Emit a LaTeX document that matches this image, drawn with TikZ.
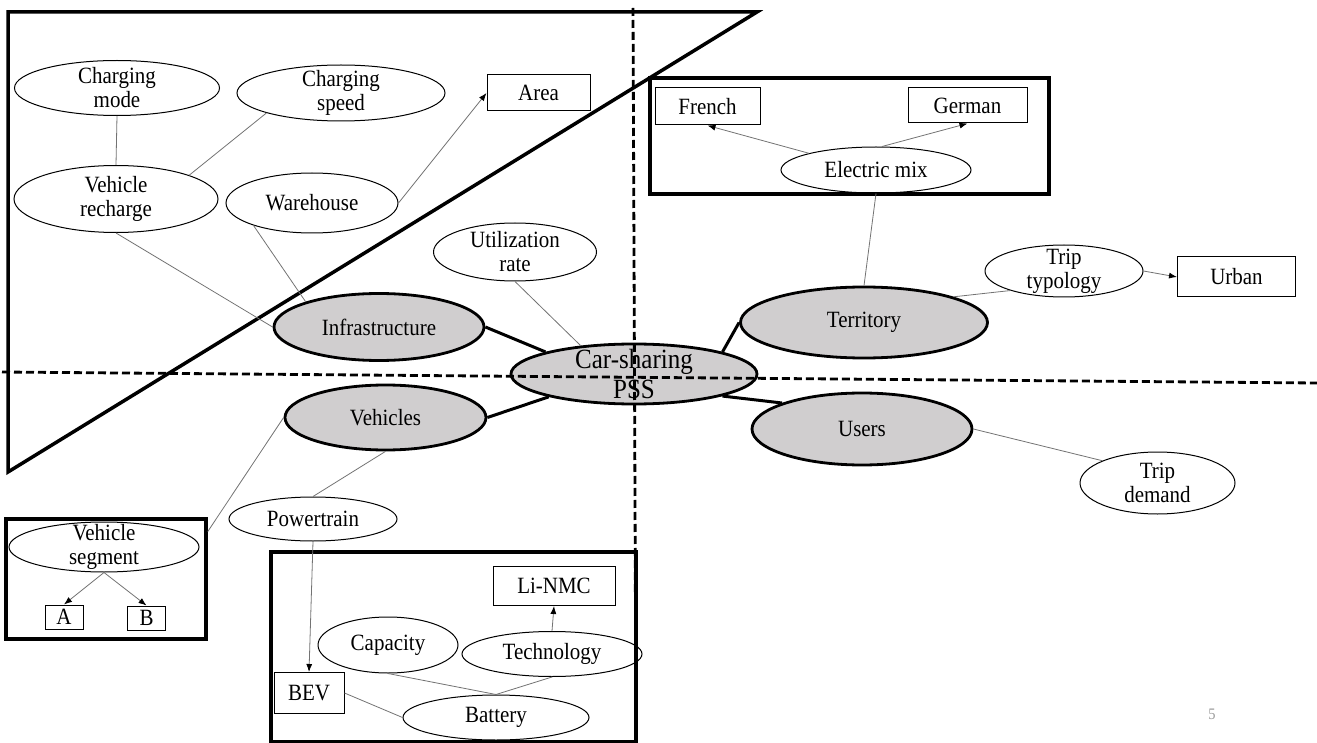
\documentclass[tikz,border=0pt]{standalone}
\usepackage{fontspec}
\setmainfont{Liberation Serif}[FakeStretch=0.9]
\usetikzlibrary{shapes.geometric, arrows.meta}
\definecolor{mgray}{RGB}{208,206,207}
\definecolor{lgray}{RGB}{115,115,115}

\begin{document}
\begin{tikzpicture}[x=1pt, y=-1pt,
  every node/.style = {align=center, inner sep=0pt, font=\fontsize{23.3}{24}\selectfont},
  sz/.style 2 args = {minimum width=#1pt, minimum height=#2pt},
  attr/.style = {shape=ellipse, draw, line width=1pt, inner sep=-10pt},
  core/.style = {shape=ellipse, draw, line width=2.8pt, inner sep=-10pt, fill=mgray},
  val/.style = {shape=rectangle, draw, line width=1pt},
  group/.style = {shape=rectangle, draw, line width=3.5pt},
  rel/.style = {draw=lgray, line width=0.8pt},
  relto/.style = {rel, -{Latex[length=8pt, width=6pt, color=black]}},
  tie/.style = {line width=3pt},
  cut/.style = {line width=2.8pt, dash pattern=on 8pt off 4pt}]
  \useasboundingbox (0,0) rectangle (1317,743);

  % frames
  \draw[line width=3.5pt, line join=miter] (8,12) -- (757,12) -- (8,472) -- cycle;
  \node[group, sz={399}{116}] (mixbox) at (849.5,136) {};
  \node[group, sz={200}{120}] (segbox) at (106,579) {};
  \node[group, sz={365}{190}] (batbox) at (453.5,647) {};

  % infrastructure side
  \node[attr, sz={205}{55}] (mode) at (117,88) {Charging\\mode};
  \node[attr, sz={208}{56}] (speed) at (341,93) {Charging\\speed};
  \node[val, sz={103}{36}] (area) at (538.5,93) {Area};
  \node[attr, sz={204}{67}] (recharge) at (116,199) {Vehicle\\recharge};
  \node[attr, sz={172}{60}] (warehouse) at (312,203) {Warehouse};
  \node[attr, sz={163}{58}] (util) at (515,252) {Utilization\\rate};
  \node[core, sz={210}{67}] (infra) at (379,327) {Infrastructure};

  \node[core, sz={246}{60}, font=\fontsize{27.8}{30}\selectfont] (car) at (634,374)
    {Car-sharing\\PSS};

  % territory and users
  \node[val, sz={105}{37}] (french) at (707.5,106.5) {French};
  \node[val, sz={119}{35}] (german) at (967.5,105.5) {German};
  \node[attr, sz={190}{46}] (elecmix) at (876,170) {Electric mix};
  \node[attr, sz={158}{52}] (typology) at (1064,271) {Trip\\typology};
  \node[val, sz={118}{40}] (urban) at (1236.5,277) {Urban};
  \node[core, sz={247}{71}] (territory) at (864,322.5) {Territory};
  \node[core, sz={220}{72}] (users) at (862,429) {Users};
  \node[attr, sz={155}{62}] (demand) at (1157.5,483) {Trip\\demand};

  % vehicles
  \node[core, sz={201}{65}] (vehicles) at (385.5,417.5) {Vehicles};
  \node[attr, sz={168}{44}] (powertrain) at (313,519) {Powertrain};
  \node[attr, sz={190}{50}] (segment) at (104,547) {Vehicle\\segment};
  \node[val, sz={38}{24}] (segA) at (64,617) {A};
  \node[val, sz={38}{24}] (segB) at (146.5,618) {B};
  \node[val, sz={122}{39}] (linmc) at (554,586) {Li-NMC};
  \node[attr, sz={140}{56}] (capacity) at (388,645) {Capacity};
  \node[attr, sz={180}{45}] (technology) at (552,654) {Technology};
  \node[val, sz={70}{41}] (bev) at (309,693) {BEV};
  \node[attr, sz={186}{45}] (battery) at (496,717.5) {Battery};

  \node[text=black!40, font=\fontsize{16}{18}\selectfont] (pagenum) at (1212,714) {5};

  % links
  \draw[rel] (mode.south) -- (recharge.north);
  \draw[rel] (speed.195) -- (recharge.18);
  \draw[relto] (warehouse.east) -- (area.west);
  \draw[rel] (recharge.south) -- (infra.west);
  \draw[rel] (warehouse.-159) -- (infra.161);
  \draw[rel] (util.south) -- (car.152);
  \draw[relto] (elecmix.166) -- (french.south);
  \draw[relto] (elecmix.76) -- (german.south);
  \draw[rel] (elecmix.south) -- (territory.north);
  \draw[rel] (territory.16) -- (typology.200);
  \draw[relto] (typology.east) -- (urban.west);
  \draw[rel] (users.east) -- (demand.158);
  \draw[rel] (vehicles.south) -- (powertrain.north);
  \draw[rel] (vehicles.west) -- (segbox.25);
  \draw[relto] (segment.south) -- (segA.north);
  \draw[relto] (segment.south) -- (segB.north);
  \draw[relto] (powertrain.south) -- (bev.north);
  \draw[relto] (technology.north) -- (linmc.south);
  \draw[rel] (capacity.south) -- (battery.north);
  \draw[rel] (technology.south) -- (battery.north);
  \draw[rel] (bev.east) -- (battery.west);

  \draw[tie] (infra.east) -- (car.166);
  \draw[tie] (vehicles.east) -- (car.195);
  \draw[tie] (car.14) -- (territory.west);
  \draw[tie] (car.-14) -- (users.162);

  % quadrants
  \draw[cut] (2,372) -- (1317,383);
  \draw[cut] (633,8) -- (636,743);
\end{tikzpicture}
\end{document}
